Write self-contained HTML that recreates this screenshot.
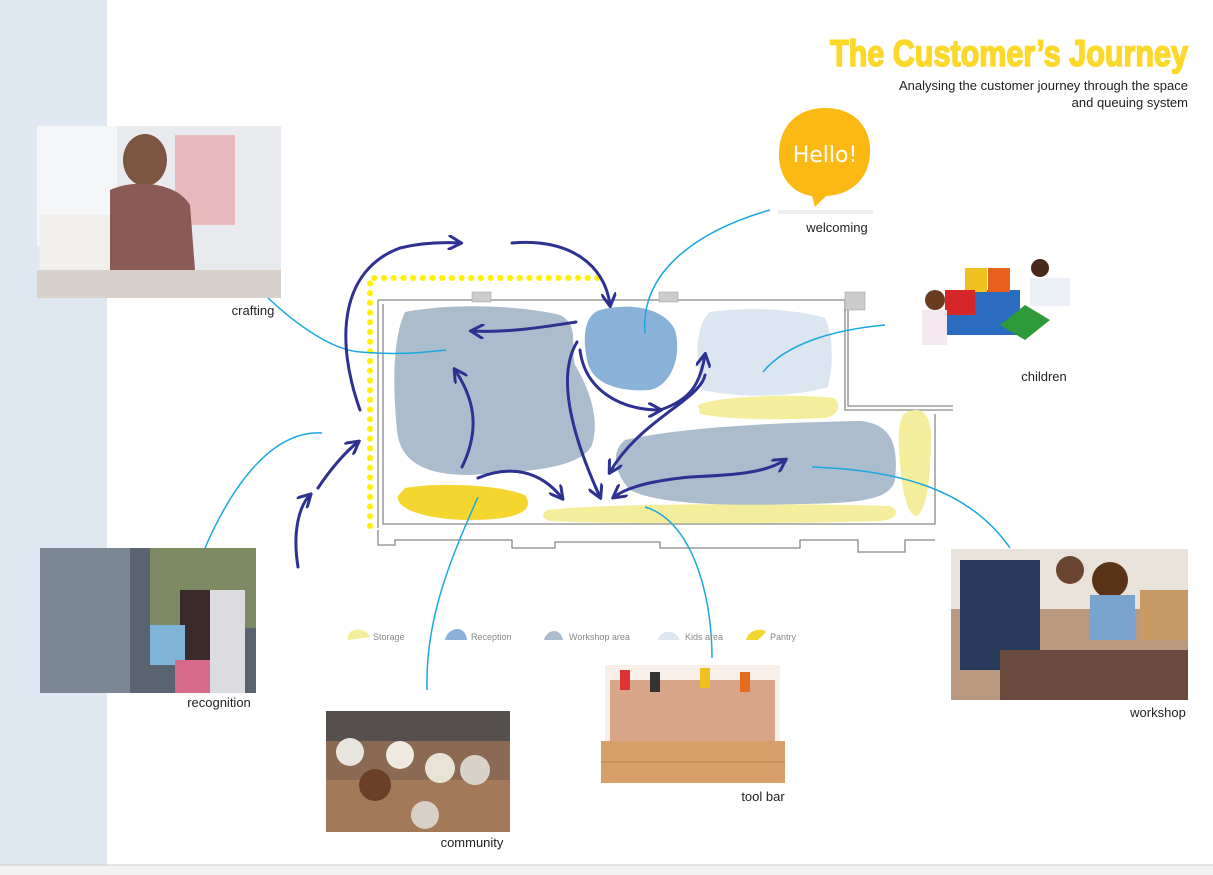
<!DOCTYPE html>
<html><head><meta charset="utf-8"><style>
html,body{margin:0;padding:0;background:#fff;}
svg{display:block;font-family:"Liberation Sans",sans-serif;}
</style></head><body>
<svg width="1213" height="875" viewBox="0 0 1213 875" xmlns="http://www.w3.org/2000/svg">
<defs>
<marker id="ah" viewBox="0 0 10 10" refX="8" refY="5" markerWidth="5" markerHeight="5" orient="auto-start-reverse">
<path d="M0,0 L9,5 L0,10" fill="none" stroke="#2e3192" stroke-width="2"/>
</marker>
</defs>
<rect x="0" y="0" width="107" height="865" fill="#dfe7f0"/>
<rect x="0" y="865" width="1213" height="10" fill="#f2f2f2"/>
<line x1="0" y1="865" x2="1213" y2="865" stroke="#ccc"/>

<!-- title -->
<text x="1188" y="66" text-anchor="end" font-size="37" font-weight="bold" fill="#fcd82a" stroke="#fcd82a" stroke-width="1.6" textLength="358" lengthAdjust="spacingAndGlyphs">The Customer’s Journey</text>
<text x="1188" y="90" text-anchor="end" font-size="13" fill="#222">Analysing  the customer journey through the space</text>
<text x="1188" y="107" text-anchor="end" font-size="13" fill="#222">and queuing system</text>

<!-- hello bubble -->
<path d="M825,108 C855,108 872,128 870,155 C868,180 850,195 826,196 L815,207 L812,196 C792,193 778,177 779,152 C780,125 798,108 825,108 Z" fill="#fdb913"/>
<text x="825" y="162" text-anchor="middle" font-size="22" fill="#fff" font-family="DejaVu Sans, sans-serif">Hello!</text>
<rect x="778" y="210" width="95" height="4" fill="#eee"/>
<text x="837" y="232" text-anchor="middle" font-size="13" fill="#222">welcoming</text>

<!-- floor plan walls -->
<g fill="none" stroke="#888" stroke-width="1.3">
<path d="M378,300 L845,300 L845,410 L953,410"/>
<path d="M383,304 L383,524 L935,524 L935,414"/>
<path d="M848,300 L848,406 L953,406"/>
<path d="M378,300 L378,528"/>
<path d="M378,530 L378,545 L395,545 L395,540 L512,540 L512,548 L555,548 L555,542 L660,542 L660,548 L800,548 L800,540 L858,540 L858,552 L905,552 L905,540 L935,540"/>
</g>
<rect x="472" y="292" width="19" height="10" fill="#ccc" stroke="#999" stroke-width="0.5"/>
<rect x="659" y="292" width="19" height="10" fill="#ccc" stroke="#999" stroke-width="0.5"/>
<rect x="845" y="292" width="20" height="18" fill="#ccc" stroke="#999" stroke-width="0.5"/>

<!-- zones -->
<path d="M405,312 C450,303 520,305 560,315 C580,325 570,345 575,365 C590,390 600,420 592,445 C580,470 520,472 470,475 C430,475 400,465 397,430 C393,390 392,340 405,312 Z" fill="#abbccd"/>
<path d="M600,310 C630,302 665,308 675,330 C682,355 672,385 650,390 C620,392 592,385 587,360 C582,335 585,315 600,310 Z" fill="#8ab2d8"/>
<path d="M710,312 C750,306 800,310 825,318 C835,340 832,370 828,387 C790,398 740,398 702,390 C695,360 695,325 710,312 Z" fill="#dbe6f0"/>
<path d="M698,405 C720,395 800,394 834,398 C842,405 838,415 826,418 C780,420 730,420 700,414 Z" fill="#f4ee9c"/>
<path d="M548,510 C600,503 800,503 890,506 C902,512 895,520 880,521 C800,524 600,524 550,521 C540,518 542,512 548,510 Z" fill="#f4ee9c"/>
<path d="M905,413 C920,405 932,412 931,440 C930,470 930,500 918,516 C905,518 901,480 899,450 C898,430 900,418 905,413 Z" fill="#f4ee9c"/>
<path d="M405,488 C440,482 500,485 525,495 C535,510 520,520 470,520 C430,520 395,510 398,496 Z" fill="#f5d62e"/>
<path d="M625,440 C680,428 760,423 860,421 C895,424 898,450 895,480 C890,500 860,503 800,504 C730,506 660,505 630,490 C612,470 612,450 625,440 Z" fill="#abbccd"/>

<!-- dotted yellow -->
<path d="M370,526 L370,278 L598,278" fill="none" stroke="#fff200" stroke-width="6" stroke-linecap="round" stroke-dasharray="0.1 9.6"/>

<!-- cyan leader lines -->
<g fill="none" stroke="#1ba8e0" stroke-width="1.5">
<path d="M262,292 C290,320 330,350 360,352 C395,355 420,353 446,350"/>
<path d="M770,210 C700,230 640,270 645,333"/>
<path d="M885,325 C830,330 785,345 763,372"/>
<path d="M322,433 C270,430 230,490 205,548"/>
<path d="M812,467 C900,470 970,490 1010,548"/>
<path d="M478,497 C450,560 425,620 427,690"/>
<path d="M645,507 C690,520 712,590 712,658"/>
</g>

<!-- arrows -->
<g fill="none" stroke="#2e3192" stroke-width="3" stroke-linecap="round">
<path d="M360,410 C335,340 340,270 400,248 C420,243 440,242 460,243" marker-end="url(#ah)"/>
<path d="M512,243 C570,238 605,265 610,305" marker-end="url(#ah)"/>
<path d="M576,322 C550,326 510,333 472,331" marker-end="url(#ah)"/>
<path d="M462,467 C480,430 475,400 455,370" marker-end="url(#ah)"/>
<path d="M298,567 C292,530 300,505 310,495" marker-end="url(#ah)"/>
<path d="M318,488 C330,470 345,452 358,442" marker-end="url(#ah)"/>
<path d="M478,478 C510,465 540,470 562,498" marker-end="url(#ah)"/>
<path d="M577,342 C560,370 565,420 600,497" marker-end="url(#ah)"/>
<path d="M580,350 C585,390 620,410 660,410" marker-end="url(#ah)"/>
<path d="M660,410 C690,400 700,385 705,355" marker-end="url(#ah)"/>
<path d="M705,375 C700,400 640,420 610,472" marker-end="url(#ah)"/>
<path d="M690,477 C735,475 765,473 785,460" marker-end="url(#ah)"/>
<path d="M690,477 C660,480 630,485 614,497" marker-end="url(#ah)"/>
</g>

<!-- legend -->
<g font-size="9" fill="#888">
<path d="M348,640 C345,628 365,625 370,637 Z" fill="#f4ee9c"/><text x="373" y="640">Storage</text>
<path d="M445,640 C447,628 465,623 467,640 Z" fill="#8ab2d8"/><text x="471" y="640">Reception</text>
<path d="M544,640 C546,630 560,626 563,640 Z" fill="#abbccd"/><text x="569" y="640">Workshop area</text>
<path d="M658,640 C660,630 675,628 680,640 Z" fill="#dbe6f0"/><text x="685" y="640">Kids area</text>
<path d="M746,640 C748,630 762,627 766,632 L758,640 Z" fill="#f5d62e"/><text x="770" y="640">Pantry</text>
</g>

<!-- crafting -->
<rect x="37" y="126" width="244" height="172" fill="#e9eaee"/>
<rect x="37" y="126" width="80" height="120" fill="#f4f6f8"/>
<rect x="175" y="135" width="60" height="90" fill="#e7b9bd"/>
<rect x="40" y="215" width="90" height="70" fill="#f1efec"/>
<ellipse cx="145" cy="160" rx="22" ry="26" fill="#7a5540"/>
<path d="M110,190 C130,180 175,180 190,205 L195,270 L110,270 Z" fill="#8a5a55"/>
<rect x="37" y="270" width="244" height="28" fill="#d9d1cc"/>
<text x="253" y="315" text-anchor="middle" font-size="13" fill="#222">crafting</text>

<!-- children -->
<rect x="945" y="290" width="75" height="45" fill="#2a6cc0"/>
<rect x="965" y="268" width="22" height="24" fill="#f0c020"/>
<rect x="988" y="268" width="22" height="24" fill="#e8601e"/>
<rect x="945" y="290" width="30" height="25" fill="#d7262a"/>
<path d="M1000,325 L1025,305 L1050,320 L1025,340 Z" fill="#2e9a3a"/>
<circle cx="935" cy="300" r="10" fill="#6b3c20"/>
<rect x="922" y="310" width="25" height="35" fill="#f2e8ee"/>
<circle cx="1040" cy="268" r="9" fill="#4a2a1a"/>
<rect x="1030" y="278" width="40" height="28" fill="#eaf0f6"/>
<text x="1044" y="381" text-anchor="middle" font-size="13" fill="#222">children</text>

<!-- recognition -->
<rect x="40" y="548" width="216" height="145" fill="#5a6470"/>
<rect x="40" y="548" width="90" height="145" fill="#7b8792"/>
<rect x="150" y="548" width="106" height="80" fill="#7e8a63"/>
<rect x="180" y="590" width="40" height="103" fill="#3a2a2a"/>
<rect x="210" y="590" width="35" height="103" fill="#dcdce0"/>
<rect x="150" y="625" width="35" height="40" fill="#7fb3d8"/>
<rect x="175" y="660" width="35" height="33" fill="#d66a8a"/>
<text x="219" y="707" text-anchor="middle" font-size="13" fill="#222">recognition</text>

<!-- community -->
<rect x="326" y="711" width="184" height="121" fill="#8a6a52"/>
<rect x="326" y="711" width="184" height="30" fill="#55504e"/>
<rect x="326" y="780" width="184" height="52" fill="#a27a5a"/>
<circle cx="350" cy="752" r="14" fill="#e8e4de"/>
<circle cx="400" cy="755" r="14" fill="#efe9e0"/>
<circle cx="440" cy="768" r="15" fill="#e9e3d6"/>
<circle cx="475" cy="770" r="15" fill="#d9d2c8"/>
<circle cx="375" cy="785" r="16" fill="#6a4028"/>
<circle cx="425" cy="815" r="14" fill="#d6d0c6"/>
<text x="472" y="847" text-anchor="middle" font-size="13" fill="#222">community</text>

<!-- tool bar -->
<rect x="605" y="665" width="175" height="80" fill="#f7efe8"/>
<rect x="610" y="680" width="165" height="62" fill="#d9a58a"/>
<rect x="601" y="741" width="184" height="42" fill="#d7a06a"/>
<line x1="601" y1="762" x2="785" y2="762" stroke="#b98550"/>
<rect x="620" y="670" width="10" height="20" fill="#d33"/><rect x="650" y="672" width="10" height="20" fill="#333"/>
<rect x="700" y="668" width="10" height="20" fill="#f0c020"/><rect x="740" y="672" width="10" height="20" fill="#e56b1f"/>
<text x="763" y="801" text-anchor="middle" font-size="13" fill="#222">tool bar</text>

<!-- workshop -->
<rect x="951" y="549" width="237" height="151" fill="#b99880"/>
<rect x="951" y="549" width="237" height="60" fill="#e8e2da"/>
<rect x="1140" y="590" width="48" height="50" fill="#c79a66"/>
<rect x="960" y="560" width="80" height="110" fill="#283a5c"/>
<circle cx="1070" cy="570" r="14" fill="#6a4630"/>
<circle cx="1110" cy="580" r="18" fill="#5a3418"/>
<rect x="1090" y="595" width="45" height="45" fill="#7aa4d0"/>
<rect x="1000" y="650" width="188" height="50" fill="#6b4a3e"/>
<text x="1158" y="717" text-anchor="middle" font-size="13" fill="#222">workshop</text>
</svg>
</body></html>
